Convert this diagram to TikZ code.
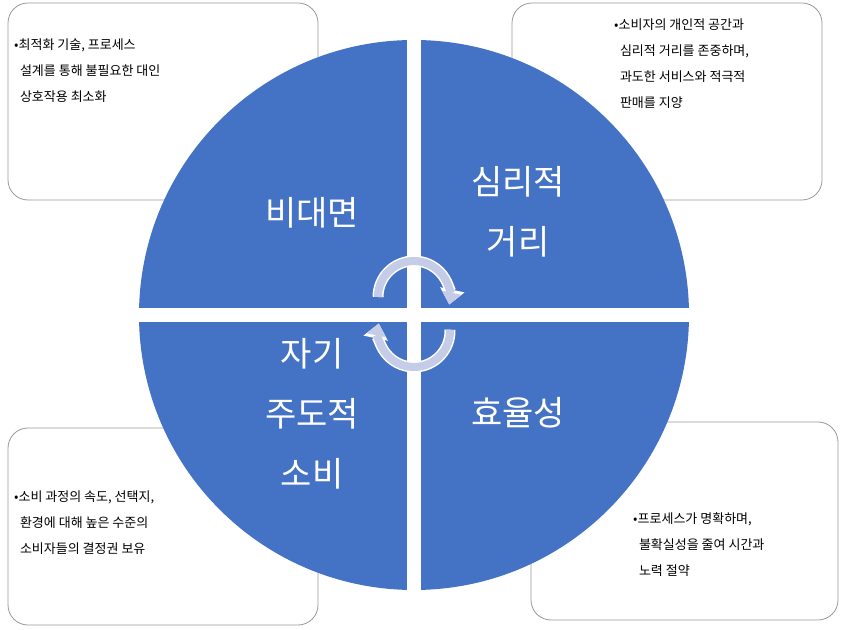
\documentclass[tikz,border=0pt]{standalone}
\usepackage{fontspec}
\setmainfont{Noto Sans CJK KR}
\usetikzlibrary{arrows.meta}
\definecolor{qblue}{HTML}{4472C4}
\definecolor{arr}{HTML}{C5CCE8}
\begin{document}
\begin{tikzpicture}[x=1pt,y=1pt,
  box/.style={draw=black!40,line width=0.8pt,fill=white,rounded corners=20pt},
  btxt/.style={anchor=north west,align=left,font=\fontsize{13}{26}\selectfont,inner sep=0pt},
  big/.style={text=white,font=\fontsize{34}{60}\selectfont,align=center},
  cyc/.style={line width=11pt,draw=white,-{Triangle[length=15pt,width=24pt]}},
  cycin/.style={line width=8pt,draw=arr,-{Triangle[length=12pt,width=19pt,fill=arr]}}]
\useasboundingbox (0,0) rectangle (842,629);
% boxes
\draw[box] (8,429) rectangle (318,626);
\draw[box] (512,429) rectangle (822,626);
\draw[box] (8,4) rectangle (318,201);
\draw[box] (531,9) rectangle (838,207);
\node[btxt] (t1) at (14,590) {•최적화 기술, 프로세스\\\ \ 설계를 통해 불필요한 대인\\\ \ 상호작용 최소화};
\node[btxt] (t2) at (614,610) {•소비자의 개인적 공간과\\\ \ 심리적 거리를 존중하며,\\\ \ 과도한 서비스와 적극적\\\ \ 판매를 지양};
\node[btxt] (t3) at (14,138) {•소비 과정의 속도, 선택지,\\\ \ 환경에 대해 높은 수준의\\\ \ 소비자들의 결정권 보유};
\node[btxt] (t4) at (633,117) {•프로세스가 명확하며,\\\ \ 불확실성을 줄여 시간과\\\ \ 노력 절약};
% circle
\fill[qblue] (414,314) circle (275);
\fill[white] (407,36) rectangle (421,594);
\fill[white] (136,307) rectangle (692,321);
\node[big] (q1) at (312,416) {비대면};
\node[big] (q2) at (518,417) {심리적\\거리};
\node[big] (q3) at (312,215) {자기\\주도적\\소비};
\node[big] (q4) at (518,216) {효율성};
% cycle arrows
\draw[cyc] (414,332) ++(180:36) arc (180:-12:36);
\draw[cycin] (414,332) ++(180:36) arc (180:-12:36);
\draw[cyc] (414,298) ++(2:36) arc (2:-192:36);
\draw[cycin] (414,298) ++(2:36) arc (2:-192:36);
\end{tikzpicture}
\end{document}
